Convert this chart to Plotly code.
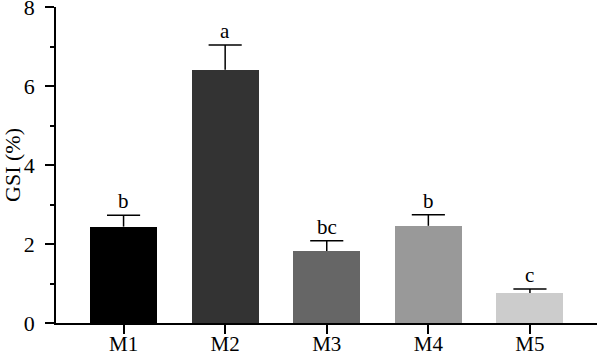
import plotly.graph_objects as go

categories = ["M1", "M2", "M3", "M4", "M5"]
gsi_mean = [2.44, 6.41, 1.82, 2.46, 0.76]
gsi_err = [0.29, 0.63, 0.26, 0.28, 0.10]
sig_letters = ["b", "a", "bc", "b", "c"]
bar_colors = ["#000000", "#333333", "#666666", "#999999", "#cccccc"]
y_ticks = [0, 2, 4, 6, 8]

FONT = "Liberation Serif"
CAP_HALF = 0.163  # half cap width in category units

xs = list(range(len(categories)))

fig = go.Figure()
fig.add_trace(go.Bar(
    x=xs,
    y=gsi_mean,
    width=0.66,
    marker=dict(color=bar_colors, line=dict(width=0)),
    showlegend=False,
    hoverinfo="skip",
))

# upper-only error bars (stem + cap) built from the data arrays
ex, ey = [], []
for i, (m, e) in enumerate(zip(gsi_mean, gsi_err)):
    ex += [i, i, None, i - CAP_HALF, i + CAP_HALF, None]
    ey += [m, m + e, None, m + e, m + e, None]
fig.add_trace(go.Scatter(
    x=ex, y=ey, mode="lines",
    line=dict(color="#000000", width=1.5),
    showlegend=False, hoverinfo="skip", cliponaxis=False,
))

for i, (m, e, s) in enumerate(zip(gsi_mean, gsi_err, sig_letters)):
    fig.add_annotation(x=i, y=m + e, text=s, showarrow=False,
                       yanchor="bottom", yshift=0,
                       font=dict(family=FONT, size=21, color="#000000"))

fig.update_layout(
    width=600, height=355,
    margin=dict(l=56, r=3, t=7, b=32),
    paper_bgcolor="white", plot_bgcolor="white",
    font=dict(family=FONT, size=22, color="#000000"),
    bargap=0,
)
fig.update_xaxes(
    range=[-0.665, 4.66], automargin=False,
    tickmode="array", tickvals=xs, ticktext=categories,
    showline=True, linecolor="#000000", linewidth=1.5,
    ticks="outside", ticklen=9, tickwidth=1.5, tickcolor="#000000",
    showgrid=False, zeroline=False,
    tickfont=dict(family=FONT, size=21),
    ticklabeloverflow="allow",
    ticklabelstandoff=-8,
)
fig.update_yaxes(
    range=[0, 8], automargin=False,
    tickmode="array", tickvals=y_ticks,
    showline=True, linecolor="#000000", linewidth=1.5,
    ticks="outside", ticklen=9, tickwidth=1.5, tickcolor="#000000",
    minor=dict(dtick=1, ticklen=4, tickwidth=1.5, tickcolor="#000000", ticks="outside"),
    showgrid=False, zeroline=False,
    tickfont=dict(family=FONT, size=22),
    ticklabeloverflow="allow",
    ticklabelstandoff=6,
    title=dict(text="GSI (%)", font=dict(family=FONT, size=22), standoff=15),
)

fig.write_html("out.html")
